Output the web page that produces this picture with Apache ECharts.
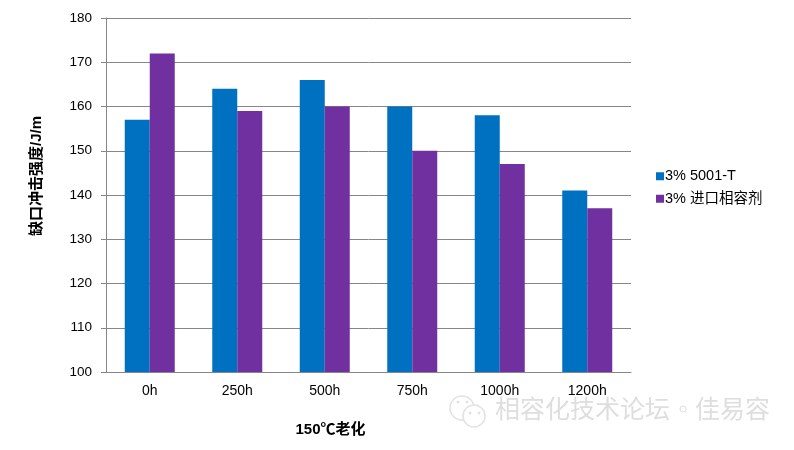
<!DOCTYPE html>
<html>
<head>
<meta charset="utf-8">
<style>
  html, body { margin: 0; padding: 0; background: #fff; }
  #chart { width: 794px; height: 450px; }
</style>
<script src="https://cdn.jsdelivr.net/npm/echarts@6/dist/echarts.min.js"></script>
</head>
<body>
<div id="chart"></div>
<script>
  var categories = ['0h', '250h', '500h', '750h', '1000h', '1200h'];
  var series5001 = [157, 164, 166, 160, 158, 141];
  var seriesImport = [172, 159, 160, 150, 147, 137];
  var yTicks = { min: 100, max: 180, step: 10 };

  var textFont = '"Liberation Sans", "Noto Sans CJK SC", sans-serif';
  var axisGray = '#868686';
  var markGray = '#e2e2e2';
  var markFont = '"Noto Sans CJK SC", sans-serif';

  var chart = echarts.init(document.getElementById('chart'), null, { renderer: 'canvas' });
  chart.setOption({
    animation: false,
    backgroundColor: '#fff',
    textStyle: { fontFamily: textFont },
    grid: { left: 106, right: 163, top: 18, bottom: 78 },
    legend: {
      orient: 'vertical',
      left: 651,
      top: 164,
      itemWidth: 8,
      itemHeight: 8,
      itemGap: 8,
      icon: 'rect',
      textStyle: { fontSize: 14.5, color: '#000', padding: [0, 0, 0, -4] },
      data: ['3% 5001-T', '3% 进口相容剂']
    },
    xAxis: {
      type: 'category',
      data: categories,
      name: '150℃老化',
      nameLocation: 'middle',
      nameGap: 50,
      nameTextStyle: { fontSize: 15, fontWeight: 'bold', color: '#000', padding: [0, 76, 0, 0] },
      axisLine: { lineStyle: { color: axisGray, width: 1 } },
      axisTick: { show: false },
      axisLabel: { fontSize: 14, color: '#000', margin: 12 }
    },
    yAxis: {
      type: 'value',
      min: yTicks.min,
      max: yTicks.max,
      interval: yTicks.step,
      name: '缺口冲击强度/J/m',
      nameLocation: 'middle',
      nameGap: 62,
      nameTextStyle: { fontSize: 15, fontWeight: 'bold', color: '#000', padding: [0, 0, 0, 38] },
      axisLine: { show: true, lineStyle: { color: axisGray, width: 1 } },
      axisTick: { show: true, length: 5, lineStyle: { color: axisGray } },
      axisLabel: { fontSize: 13.5, color: '#000', margin: 14 },
      splitLine: { lineStyle: { color: axisGray, width: 1 } }
    },
    series: [
      {
        name: '3% 5001-T',
        type: 'bar',
        data: series5001,
        barWidth: 25,
        barGap: 0,
        itemStyle: { color: '#0070c0' }
      },
      {
        name: '3% 进口相容剂',
        type: 'bar',
        data: seriesImport,
        barWidth: 25,
        barGap: 0,
        itemStyle: { color: '#7030a0' }
      }
    ],
    // 右下角水印
    graphic: [
      { type: 'circle', shape: { cx: 462, cy: 408, r: 12 }, style: { fill: '#fff', stroke: markGray, lineWidth: 1.5 } },
      { type: 'circle', shape: { cx: 474, cy: 416, r: 11 }, style: { fill: '#fff', stroke: markGray, lineWidth: 1.5 } },
      { type: 'circle', shape: { cx: 458, cy: 402, r: 1.5 }, style: { fill: markGray } },
      { type: 'circle', shape: { cx: 467, cy: 402, r: 1.5 }, style: { fill: markGray } },
      { type: 'circle', shape: { cx: 470, cy: 413, r: 1.5 }, style: { fill: markGray } },
      { type: 'circle', shape: { cx: 479, cy: 413, r: 1.5 }, style: { fill: markGray } },
      { type: 'text', left: 495, top: 396, style: { text: '相容化技术论坛', fontSize: 25, fontFamily: markFont, fill: '#dedede' } },
      { type: 'circle', shape: { cx: 683, cy: 409, r: 3 }, style: { fill: '#fff', stroke: '#dedede', lineWidth: 1 } },
      { type: 'text', left: 695, top: 396, style: { text: '佳易容', fontSize: 25, fontFamily: markFont, fill: '#dedede' } }
    ]
  });
</script>
</body>
</html>
